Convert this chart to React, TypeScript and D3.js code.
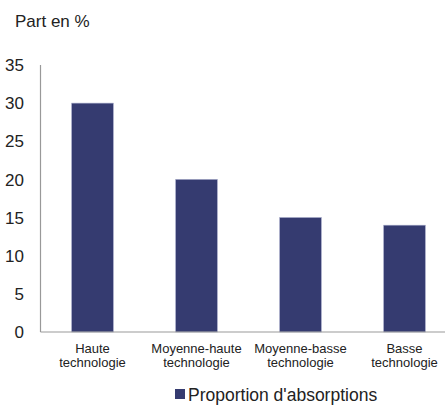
import React from "react";
import * as d3 from "d3";

const categories: string[][] = [
  ["Haute", "technologie"],
  ["Moyenne-haute", "technologie"],
  ["Moyenne-basse", "technologie"],
  ["Basse", "technologie"],
];
const values: number[] = [30, 20, 15, 14];
const yTicks: number[] = [0, 5, 10, 15, 20, 25, 30, 35];
const seriesName = "Proportion d'absorptions";
const yTitle = "Part en %";

export default function App() {
  const W = 445, H = 405;
  const left = 40.5, top = 65, bottom = 332;
  const x = d3.scaleBand<number>().domain(d3.range(values.length)).range([left, left + 416]).paddingInner(0.6).paddingOuter(0.3);
  const y = d3.scaleLinear().domain([0, 35]).range([bottom, top]);
  const font = "Liberation Sans, Arial, sans-serif";
  const color = "#353b70";
  return (
    <svg width={W} height={H} style={{ position: "absolute", left: 0, top: 0 }} fontFamily={font}>
      <rect width={W} height={H} fill="#fff" />
      <text x={15} y={27} fontSize={17} fill="#222">{yTitle}</text>
      {values.map((v, i) => (
        <rect key={i} x={x(i)} y={y(v)} width={x.bandwidth()} height={bottom - y(v)} fill={color} stroke="#9ea3c4" strokeWidth={0.6} />
      ))}
      <line x1={left} x2={left} y1={top} y2={bottom} stroke="#999" strokeWidth={1.2} />
      <line x1={left} x2={W} y1={bottom} y2={bottom} stroke="#999" strokeWidth={1.2} />
      {yTicks.map((t) => (
        <text key={t} x={24} y={y(t)} dy="0.36em" textAnchor="end" fontSize={17} fill="#222">{t}</text>
      ))}
      {categories.map((lines, i) => (
        <text key={i} x={x(i)! + x.bandwidth() / 2} y={353} textAnchor="middle" fontSize={13} fill="#222">
          {lines.map((l, j) => (
            <tspan key={j} x={x(i)! + x.bandwidth() / 2} dy={j === 0 ? 0 : 14}>{l}</tspan>
          ))}
        </text>
      ))}
      <rect x={175} y={389} width={10} height={10} fill={color} />
      <text x={188} y={400.5} fontSize={17.5} fill="#222">{seriesName}</text>
    </svg>
  );
}
